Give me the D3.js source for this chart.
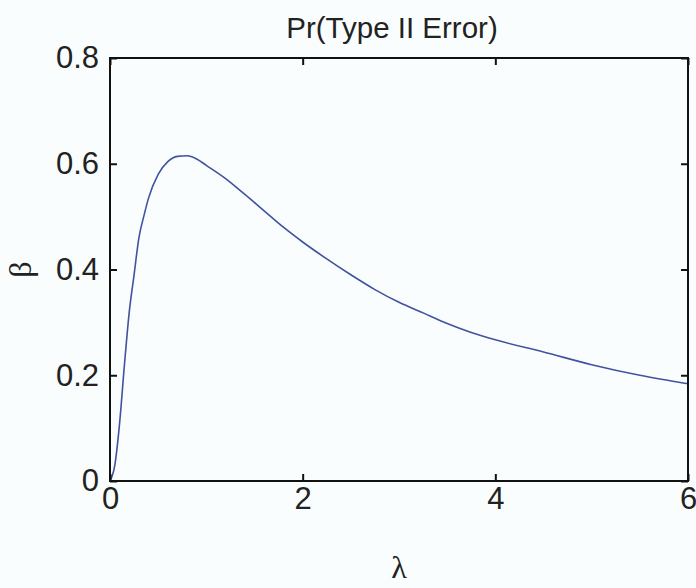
<!DOCTYPE html>
<html>
<head>
<meta charset="utf-8">
<style type="text/css">
    body { margin: 0; background: #fafdfe; }
    svg { display: block; }
    .tick text { font-family: "Liberation Sans", Arial, sans-serif; }
</style>
</head>
<body>
<svg width="696" height="588"></svg>
<script type="text/javascript" src="https://cdn.jsdelivr.net/npm/d3@7"></script>
<script type="text/javascript">

    // lambda (x) and beta (y)
    let lambdaVals = [0, 0.05, 0.1, 0.15, 0.2, 0.25, 0.3, 0.35, 0.4, 0.5, 0.6, 0.7, 0.8, 0.9, 1.0,
        1.2, 1.4, 1.6, 1.8, 2.0, 2.25, 2.5, 2.75, 3.0, 3.25, 3.5, 3.75, 4.0, 4.5, 5.0, 5.5, 6.0];
    let betaVals = [0, 0.03, 0.11, 0.22, 0.32, 0.39, 0.46, 0.5, 0.535, 0.58, 0.604, 0.614, 0.615, 0.609, 0.597,
        0.572, 0.542, 0.511, 0.48, 0.452, 0.42, 0.39, 0.362, 0.338, 0.318, 0.298, 0.281, 0.267, 0.244, 0.22, 0.2, 0.184];

    let xTicks = [0, 2, 4, 6];
    let yTicks = [0, 0.2, 0.4, 0.6, 0.8];
    let titleText = "Pr(Type II Error)";

    var svg = d3.select("svg"),
        boxL = 110, boxR = 688, boxT = 58, boxB = 481;

    var x = d3.scaleLinear().domain([0, 6]).range([boxL, boxR]);
    var y = d3.scaleLinear().domain([0, 0.8]).range([boxB, boxT]);

    let points = lambdaVals.map(function(l, i) { return [l, betaVals[i]]; });

    // the curve
    var line = d3.line()
        .x(function(d) { return x(d[0]); })
        .y(function(d) { return y(d[1]); })
        .curve(d3.curveMonotoneX);

    svg.append("path")
        .datum(points)
        .attr("d", line)
        .attr("fill", "none")
        .attr("stroke", "#41529e")
        .attr("stroke-width", 1.6);

    // axes, ticks pointing inward like matlab
    function styleAxis(g, showText) {
        g.select(".domain").remove();
        g.selectAll(".tick line").attr("stroke", "#111").attr("stroke-width", 2);
        g.selectAll(".tick text")
            .attr("fill", "#222")
            .style("font-size", "31px")
            .style("display", showText ? null : "none");
    }

    svg.append("g")
        .attr("transform", "translate(0," + boxB + ")")
        .call(d3.axisBottom(x).tickValues(xTicks).tickFormat(d3.format("d")).tickSizeInner(-7).tickPadding(6))
        .call(styleAxis, true);
    svg.append("g")
        .attr("transform", "translate(0," + boxT + ")")
        .call(d3.axisTop(x).tickValues(xTicks).tickSizeInner(-7))
        .call(styleAxis, false);
    svg.append("g")
        .attr("transform", "translate(" + boxL + ",0)")
        .call(d3.axisLeft(y).tickValues(yTicks).tickFormat(function(d) { return d === 0 ? "0" : d3.format(".1f")(d); }).tickSizeInner(-7).tickPadding(11))
        .call(styleAxis, true);
    svg.append("g")
        .attr("transform", "translate(" + boxR + ",0)")
        .call(d3.axisRight(y).tickValues(yTicks).tickSizeInner(-7))
        .call(styleAxis, false);

    // box
    svg.append("rect")
        .attr("x", boxL).attr("y", boxT)
        .attr("width", boxR - boxL).attr("height", boxB - boxT)
        .attr("fill", "none")
        .attr("stroke", "#111")
        .attr("stroke-width", 2);

    // title and labels
    svg.append("text")
        .attr("x", 392)
        .attr("y", 38)
        .attr("text-anchor", "middle")
        .attr("font-family", "Liberation Sans, Arial, sans-serif")
        .attr("font-size", 29.5)
        .attr("fill", "#222")
        .text(titleText);

    svg.append("text")
        .attr("x", (boxL + boxR) / 2)
        .attr("y", 578)
        .attr("text-anchor", "middle")
        .attr("font-family", "Liberation Serif, serif")
        .attr("font-size", 32)
        .attr("fill", "#222")
        .text("λ");

    svg.append("text")
        .attr("transform", "translate(31," + y(0.4) + ") rotate(-90)")
        .attr("text-anchor", "middle")
        .attr("font-family", "Liberation Serif, serif")
        .attr("font-size", 32)
        .attr("fill", "#222")
        .text("β");

</script>
</body>
</html>
